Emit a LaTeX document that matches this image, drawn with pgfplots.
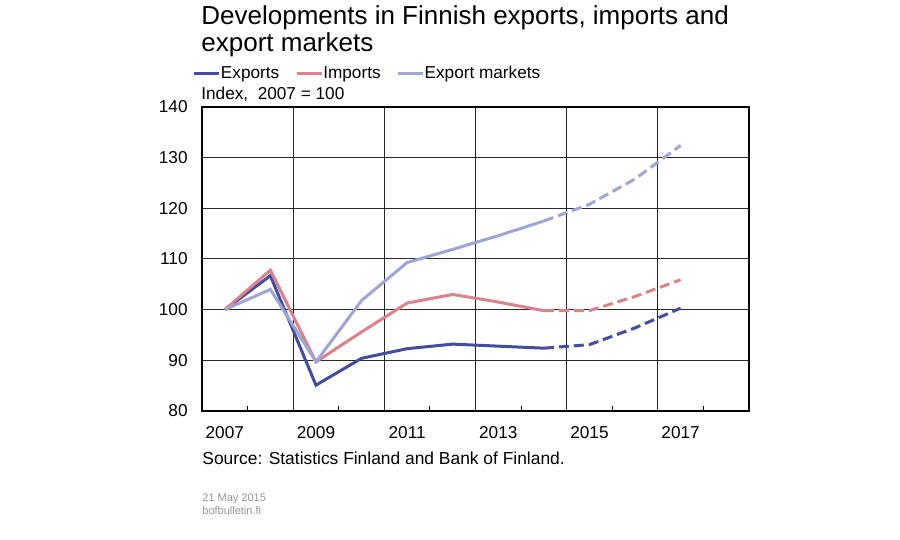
\documentclass[border=0pt]{standalone}
\usepackage{fontspec}
\setmainfont{Liberation Sans}
\usepackage{pgfplots}
\pgfplotsset{compat=1.18}

\definecolor{expcol}{RGB}{68,76,160}
\definecolor{impcol}{RGB}{219,130,140}
\definecolor{mktcol}{RGB}{160,165,215}
\definecolor{gridcol}{RGB}{40,40,40}
\definecolor{datecol}{RGB}{150,150,150}

\begin{document}
\begin{tikzpicture}
\useasboundingbox (0pt,0pt) rectangle (450pt,270pt);
\fill[white] (0pt,0pt) rectangle (450pt,270pt);

\begin{axis}[
    at={(101pt,64.5pt)}, anchor=south west,
    scale only axis,
    width=273.5pt, height=152pt,
    xmin=2006.5, xmax=2018.5,
    ymin=80, ymax=140,
    xtick={2007,2009,...,2017},
    extra x ticks={2008.5,2010.5,...,2016.5},
    extra x tick labels={},
    extra x tick style={xmajorgrids=true, major tick length=0pt},
    minor xtick={2007.5,2009.5,...,2017.5},
    minor tick length=2.5pt,
    major tick length=0pt,
    tick align=inside,
    xtick pos=lower,
    ytick={80,90,...,140},
    ymajorgrids=true,
    grid style={gridcol, line width=0.5pt},
    axis line style={black, line width=0.6pt},
    tick style={black, line width=0.5pt},
    /pgf/number format/assume math mode=true,
    /pgf/number format/1000 sep={},
    xticklabel style={font=\fontsize{8.6}{10}\selectfont, anchor=north, inner sep=0pt, yshift=-7.5pt},
    yticklabel style={font=\fontsize{8.6}{10}\selectfont, anchor=east, inner sep=0pt, xshift=-7pt},
    legend style={
        at={(-0.0165,1.109)}, anchor=west,
        draw=none, fill=none, inner sep=0pt, outer sep=0pt,
        font=\fontsize{8.6}{10}\selectfont,
        legend columns=3,
        /tikz/every even column/.append style={column sep=8pt},
        nodes={inner sep=0pt},
    },
    legend cell align=left,
    legend image code/.code={\draw[#1] (0pt,0pt) -- (12.5pt,0pt);},
]

% Exports
\addplot[expcol, line width=1.5pt] coordinates {
(2007,100) (2008,106.7) (2009,85.1) (2010,90.4) (2011,92.3)
(2012,93.2) (2013,92.8) (2014,92.4)
};
\addlegendentry{Exports}

% Imports
\addplot[impcol, line width=1.5pt] coordinates {
(2007,100) (2008,107.8) (2009,89.7) (2010,95.6) (2011,101.3)
(2012,103.0) (2013,101.5) (2014,99.8)
};
\addlegendentry{Imports}

% Export markets
\addplot[mktcol, line width=1.5pt] coordinates {
(2007,100) (2008,104.0) (2009,89.7) (2010,101.8) (2011,109.3)
(2012,111.9) (2013,114.6) (2014,117.5)
};
\addlegendentry{Export markets}

% Forecasts
\addplot[expcol, line width=1.5pt, dash pattern=on 5pt off 2.5pt, forget plot] coordinates {
(2014,92.4) (2015,93.1) (2016,96.4) (2017,100.3)
};
\addplot[impcol, line width=1.5pt, dash pattern=on 5pt off 2.5pt, forget plot] coordinates {
(2014,99.8) (2015,99.8) (2016,102.6) (2017,105.9)
};
\addplot[mktcol, line width=1.5pt, dash pattern=on 5pt off 2.5pt, forget plot] coordinates {
(2014,117.5) (2015,120.8) (2016,125.8) (2017,132.4)
};
\end{axis}

\node[anchor=base west, inner sep=0pt, font=\fontsize{13}{13.5}\selectfont]
  at (100.5pt,257.5pt) {Developments in Finnish exports, imports and};
\node[anchor=base west, inner sep=0pt, font=\fontsize{13}{13.5}\selectfont]
  at (100.5pt,244pt) {export markets};
\node[anchor=base west, inner sep=0pt, font=\fontsize{8.6}{10}\selectfont]
  at (100.5pt,220pt) {Index,\ \ 2007 = 100};
\node[anchor=base west, inner sep=0pt, font=\fontsize{8.7}{10}\selectfont]
  at (101pt,37.5pt) {Source: Statistics Finland and Bank of Finland.};
\node[anchor=base west, inner sep=0pt, text=datecol, font=\fontsize{5.5}{7}\selectfont]
  at (101pt,19pt) {21 May 2015};
\node[anchor=base west, inner sep=0pt, text=datecol, font=\fontsize{5.5}{7}\selectfont]
  at (101pt,12.5pt) {bofbulletin.fi};
\end{tikzpicture}
\end{document}
